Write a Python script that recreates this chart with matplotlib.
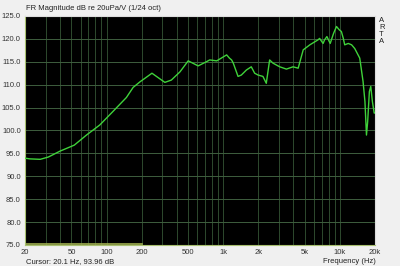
import numpy as np
import matplotlib
matplotlib.use('Agg')
import matplotlib.pyplot as plt

# frequency response
freq = [20, 22, 27, 31.7, 40, 52.9, 67.3, 87.5, 114, 148, 169, 193, 245, 316, 359,
        426, 501, 610, 717, 766, 880, 1070, 1130, 1180, 1220, 1340, 1430, 1580,
        1740, 1860, 1990, 2190, 2340, 2500, 2670, 3050, 3480, 3970, 4390, 4850,
        5530, 6510, 6700, 7180, 7400, 7740, 8260, 8830, 9350, 9860, 10300, 10700,
        11000, 11800, 12600, 13400, 14800, 15800, 16400, 16900, 17300, 17900,
        18400, 19000, 19700, 20000]
spl = [93.96, 93.8, 93.7, 94.2, 95.5, 96.8, 99.0, 101.2, 104.2, 107.2, 109.4,
       110.6, 112.5, 110.5, 111.0, 112.8, 115.2, 114.1, 115.0, 115.4, 115.2,
       116.5, 115.8, 115.4, 114.7, 111.8, 112.1, 113.2, 113.9, 112.5, 112.1,
       111.8, 110.3, 115.4, 114.7, 113.9, 113.4, 113.9, 113.6, 117.6, 118.7,
       119.8, 120.1, 119.0, 119.8, 120.5, 119.0, 121.2, 122.7, 122.0, 121.6,
       120.1, 118.7, 119.0, 118.7, 117.9, 115.8, 110.7, 106.3, 99.0, 101.9,
       108.5, 109.6, 106.3, 103.8, 103.8]

# low-frequency strip along the bottom (20 Hz .. 200 Hz)
strip_freq = [20, 200]
strip_val = [75.3, 75.3]

xticks = [20, 50, 100, 200, 500, 1000, 2000, 5000, 10000, 20000]
xlabels = ['20', '50', '100', '200', '500', '1k', '2k', '5k', '10k', '20k']
yticks = [75, 80, 85, 90, 95, 100, 105, 110, 115, 120, 125]

plt.rcParams['font.family'] = ['Liberation Sans', 'DejaVu Sans']

fig = plt.figure(figsize=(4, 2.66), dpi=100, facecolor='#f0f0f0')
ax = fig.add_axes([0.0625, 0.079, 0.875, 0.861])
ax.set_facecolor('black')

ax.set_xscale('log')
ax.set_xlim(20, 20000)
ax.set_ylim(75, 125)

# grid
minor = []
for d in [10, 100, 1000, 10000]:
    for k in range(1, 10):
        f = d * k
        if 20 < f < 20000:
            minor.append(f)
for f in minor:
    ax.axvline(f, color='#2e4a2e', lw=0.7, zorder=1)
for y in yticks[1:-1]:
    ax.axhline(y, color='#3e5e3e', lw=0.7, zorder=1)

ax.plot(freq, spl, color='#3fd23a', lw=1.0, zorder=3)
ax.plot(strip_freq, strip_val, color='#a0b050', lw=1.2, zorder=2)

ax.set_xticks(xticks)
ax.set_xticklabels(xlabels)
ax.xaxis.set_minor_locator(matplotlib.ticker.NullLocator())
ax.set_yticks(yticks)
ax.set_yticklabels(['%.1f' % v for v in yticks])
ax.tick_params(length=0, labelsize=5.5, colors='#333333', pad=3)

for s in ['top', 'right']:
    ax.spines[s].set_color('#dddddd')
ax.spines['left'].set_color('#a8c070')
ax.spines['bottom'].set_color('#a8c070')

fig.text(0.065, 0.955, 'FR Magnitude dB re 20uPa/V (1/24 oct)', fontsize=5.5,
         color='#222222', va='bottom')
fig.text(0.065, 0.012, 'Cursor: 20.1 Hz, 93.96 dB', fontsize=5.5, color='#222222')
fig.text(0.94, 0.012, 'Frequency (Hz)', fontsize=5.5, color='#222222', ha='right')
fig.text(0.948, 0.935, 'A\nR\nT\nA', fontsize=5.5, color='#222222', va='top',
         linespacing=0.95)

plt.savefig('out.png', dpi=100, facecolor=fig.get_facecolor())
